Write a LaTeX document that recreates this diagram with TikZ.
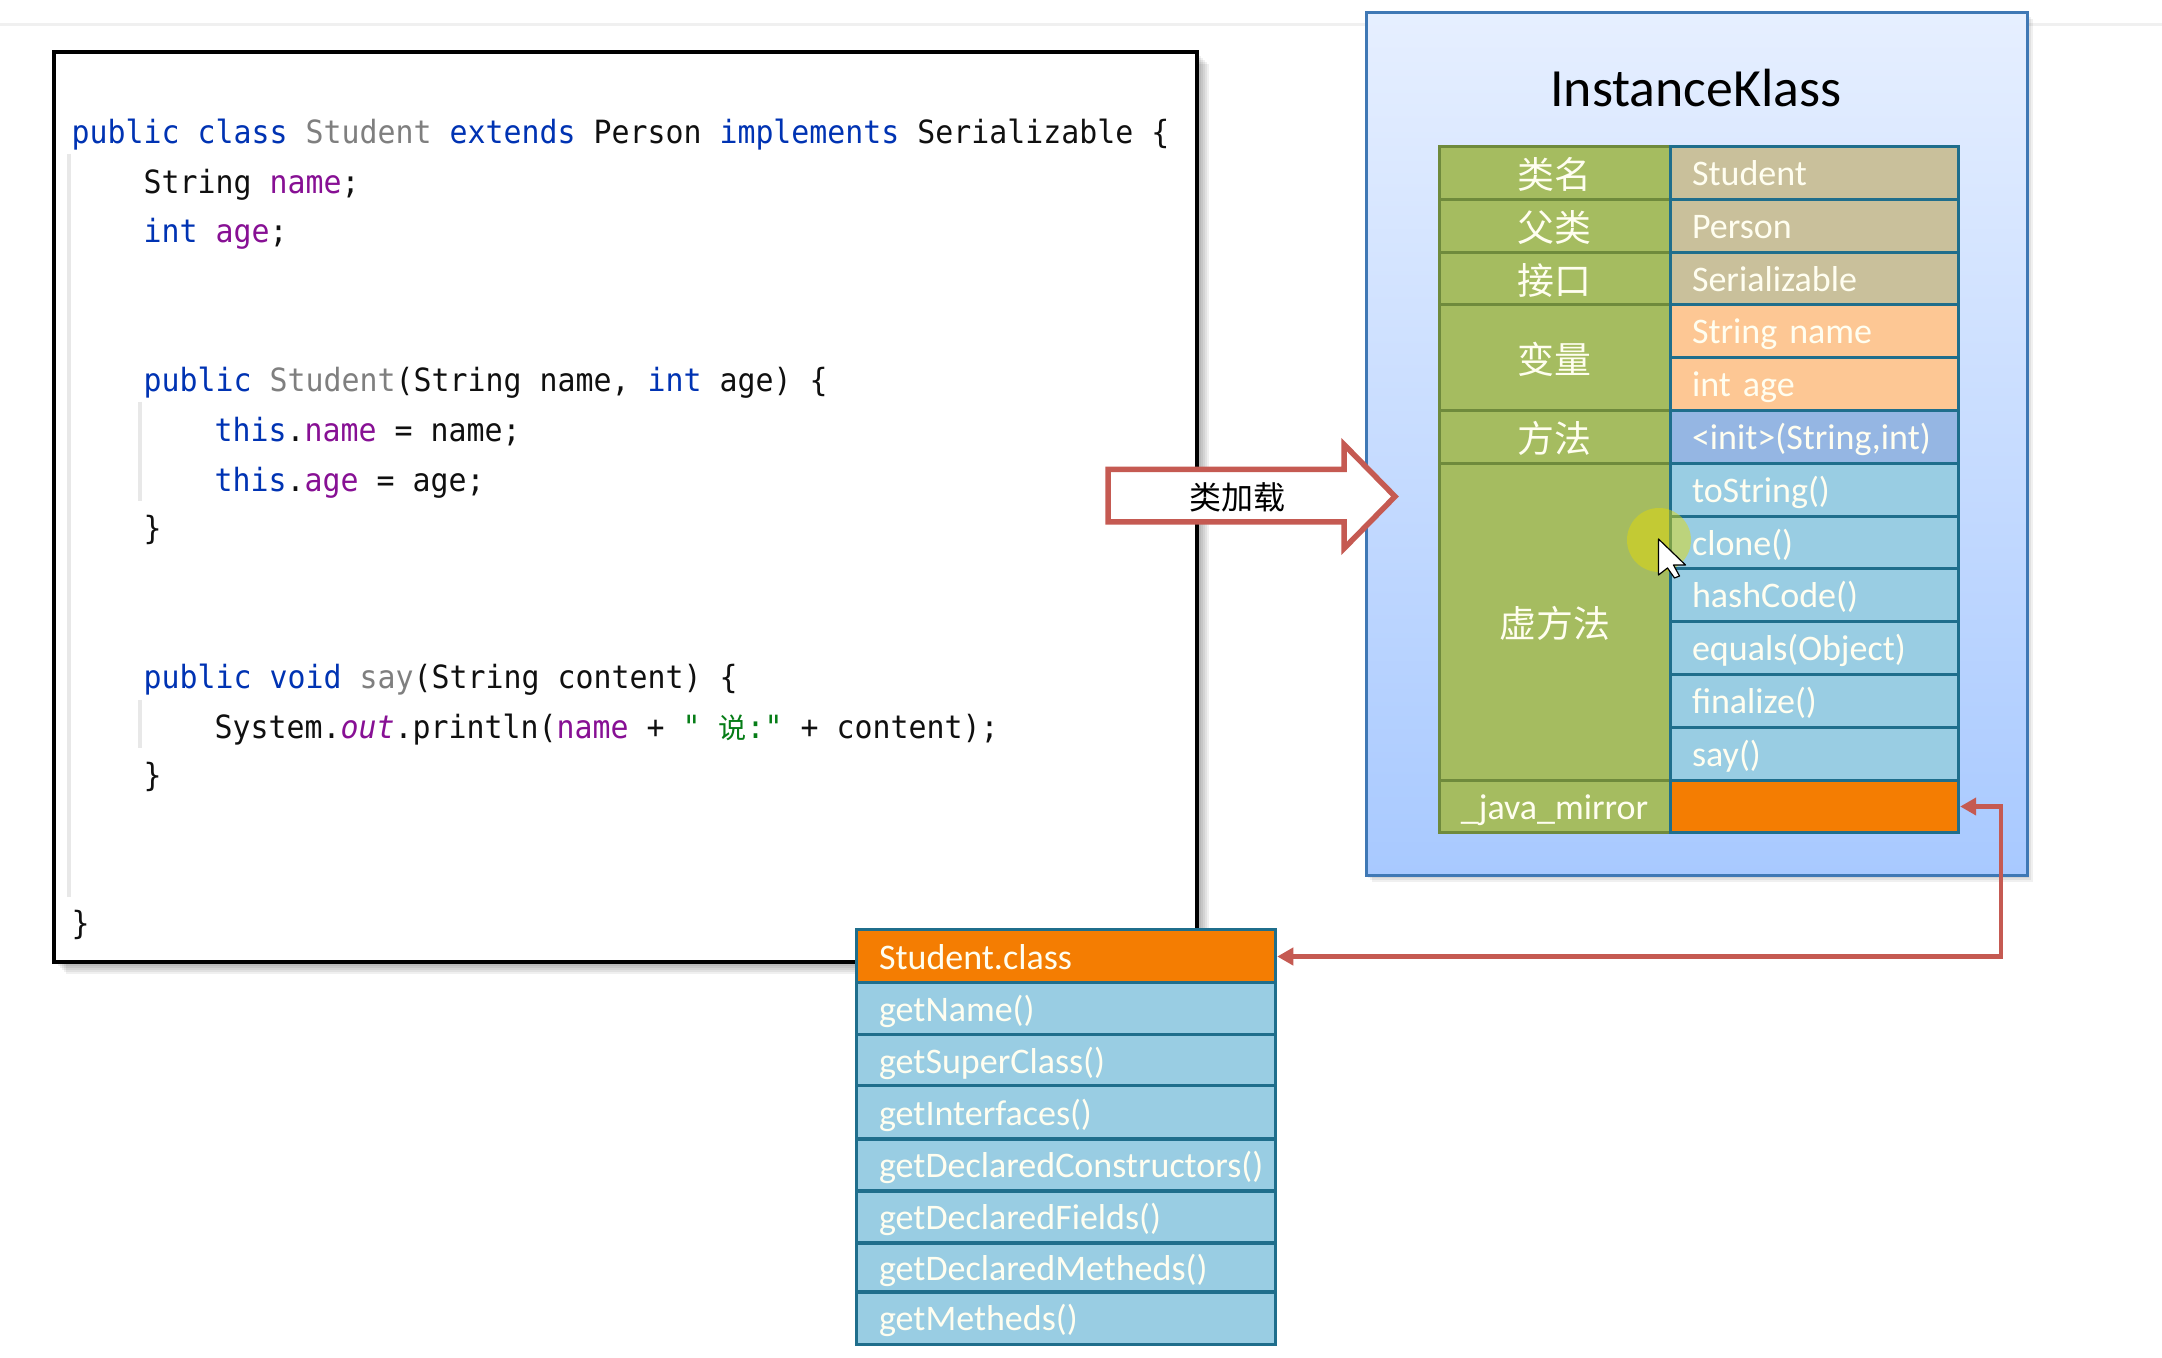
\documentclass[tikz,border=0pt]{standalone}
\usepackage{fontspec}
\setmainfont{Carlito}
\newfontfamily\codefont[FakeStretch=0.934]{DejaVu Sans Mono}
\newfontfamily\cjk{Noto Sans CJK SC}
\usetikzlibrary{calc,positioning,arrows.meta}
% colours
\definecolor{kwdc}{HTML}{0033B3}
\definecolor{fldc}{HTML}{871094}
\definecolor{dimc}{HTML}{7F7F7F}
\definecolor{strc}{HTML}{067D17}
\definecolor{txtc}{HTML}{101010}
\definecolor{guidec}{HTML}{E8E8E8}
\definecolor{redc}{HTML}{C55A52}
\definecolor{bluec}{HTML}{3F78B5}
\definecolor{tealc}{HTML}{1F6E8C}
\definecolor{olivec}{HTML}{6F8A3C}
\definecolor{greenc}{HTML}{A5BC60}
\definecolor{tanc}{HTML}{C9C09B}
\definecolor{peachc}{HTML}{FDC794}
\definecolor{initc}{HTML}{95B6E3}
\definecolor{cyanc}{HTML}{99CDE3}
\definecolor{orangec}{HTML}{F47D02}
\definecolor{boxtopc}{HTML}{E6EFFF}
\definecolor{boxbotc}{HTML}{A8C9FF}
\newcommand{\kwd}[1]{\textcolor{kwdc}{#1}}
\newcommand{\fld}[1]{\textcolor{fldc}{#1}}
\newcommand{\unused}[1]{\textcolor{dimc}{#1}}
\tikzset{
  codeline/.style={anchor=base west,inner sep=0pt,text=txtc,font=\codefont\fontsize{9.1pt}{11pt}\selectfont},
  guide/.style={guidec,line width=0.03cm},
  cell/.style={draw=tealc,line width=0.03cm,anchor=north west,outer sep=0pt,inner ysep=0pt,align=left,
    text=white!94!yellow,text height=0.83em,text depth=0.11em,font=\fontsize{10.24pt}{12pt}\selectfont},
  valcell/.style={cell,inner xsep=0.22cm,text width=2.44cm},
  classcell/.style={cell,inner xsep=0.23cm,text width=3.73cm,fill=cyanc},
  labcell/.style={cell,draw=olivec,fill=greenc,inner xsep=0pt,text width=2.31cm,align=center,
    text height=0.97em,text depth=0.08em,font=\cjk\fontsize{10.5pt}{12pt}\selectfont},
  conn/.style={redc,line width=0.042cm,
    arrows={Triangle[length=0.16cm,width=0.17cm]-Triangle[length=0.16cm,width=0.17cm]}}
}

\begin{document}
\begin{tikzpicture}[x=0.01cm,y=-0.01cm]
\useasboundingbox[fill=white] (0,0) rectangle (2162,1358);
% page rule at the top
\draw[black!6,line width=0.03cm] (0,25) -- (2162,25);
% code window
\foreach \s in {2,4,...,12} {
  \fill[black,opacity=0.06] ($(54,52)+(\s,\s)$) rectangle ($(1197,962)+(\s,\s)$);
}
\draw[black,fill=white,line width=0.035cm] (54,52) rectangle (1197,962);
\draw[guide] (69,154) -- (69,897);
\draw[guide] (140,402) -- (140,501);
\draw[guide] (140,700) -- (140,748);
% code lines
\node[codeline] (l1) at (71,144) {\kwd{public class} \unused{Student} \kwd{extends} Person \kwd{implements} Serializable \{};
\node[codeline] (l2) at (143,194) {String \fld{name};};
\node[codeline] (l3) at (143,243) {\kwd{int} \fld{age};};
\node[codeline] (l4) at (143,392) {\kwd{public} \unused{Student}(String name, \kwd{int} age) \{};
\node[codeline] (l5) at (214,442) {\kwd{this}.\fld{name} = name;};
\node[codeline] (l6) at (214,492) {\kwd{this}.\fld{age} = age;};
\node[codeline] (l7) at (143,540) {\}};
\node[codeline] (l8) at (143,689) {\kwd{public void} \unused{say}(String content) \{};
\node[codeline] (l9) at (214,739) {System.\fld{\itshape out}.println(\fld{name} + \textcolor{strc}{" {\cjk\fontsize{8pt}{11pt}\selectfont 说}:"} + content);};
\node[codeline] (l10) at (143,787) {\}};
\node[codeline] (l11) at (71,935) {\}};
% instance klass box
\foreach \s in {2,4,6} {
  \fill[black,opacity=0.06] ($(1366,13)+(\s,\s)$) rectangle ($(2027,876)+(\s,\s)$);
}
\draw[bluec,top color=boxtopc,bottom color=boxbotc,line width=0.03cm] (1366,13) rectangle (2027,876);
\node[font=\fontsize{15.3pt}{18pt}\selectfont,text=black] (title) at (1696,88) {InstanceKlass};
% left column
\foreach \t/\n/\lab [count=\i] in {0/1/类名,1/1/父类,2/1/接口,3/2/变量,5/1/方法,6/6/虚方法} {
  \node[labcell,minimum height=\n*0.528cm] (lab\i) at (1439,146.5+\t*52.8) {\lab};
}
\node[labcell,minimum height=0.528cm,text height=0.83em,text depth=0.11em,font=\fontsize{10.24pt}{12pt}\selectfont] (lab7) at (1439,146.5+12*52.8) {\_java\_mirror};
% right column
\foreach \txt/\col [count=\i] in {Student/tanc,Person/tanc,Serializable/tanc,String name/peachc,int age/peachc,
  {<init>(String,int)}/initc,toString()/cyanc,clone()/cyanc,hashCode()/cyanc,equals(Object)/cyanc,
  finalize()/cyanc,say()/cyanc,/orangec} {
  \node[valcell,fill=\col,minimum height=0.528cm] (val\i) at (1670,146.5+\i*52.8-52.8) {\txt};
}
% load arrow
\draw[redc,fill=white,line width=0.055cm,line join=miter]
  (1108,469.5) -- (1344,469.5) -- (1344,444.5) -- (1395,496.5) -- (1344,548.5) -- (1344,522) -- (1108,522) -- cycle;
\node[text=black,font=\cjk\fontsize{9.1pt}{11pt}\selectfont] (load) at (1237,497) {类加载};
% student.class table
\node[classcell,fill=orangec,minimum height=0.53cm] (cls1) at (856,930) {Student.class};
\foreach \t/\h/\txt [count=\i from 2] in {983/0.52/getName(),1035/0.51/getSuperClass(),1086/0.53/getInterfaces(),
  1139/0.52/getDeclaredConstructors(),1191/0.52/getDeclaredFields(),1243/0.49/getDeclaredMetheds(),1292/0.52/getMetheds()} {
  \node[classcell,minimum height=\h cm] (cls\i) at (856,\t) {\txt};
}
% mirror link
\coordinate (elbow) at (2001,880);
\draw[conn,shorten <=0.02cm,shorten >=0.02cm] (val13.east) -| (elbow) |- (cls1.east);
% mouse pointer
\fill[yellow!80!olive,opacity=0.45] (1659,540) circle (32);
\draw[black,fill=white,line width=0.012cm,line join=round] (1658.5,539) -- ++(0,36) -- ++(9,-7) -- ++(7,10) -- ++(5,-2) -- ++(-6,-11) -- ++(12,0) -- cycle;
\end{tikzpicture}
\end{document}
